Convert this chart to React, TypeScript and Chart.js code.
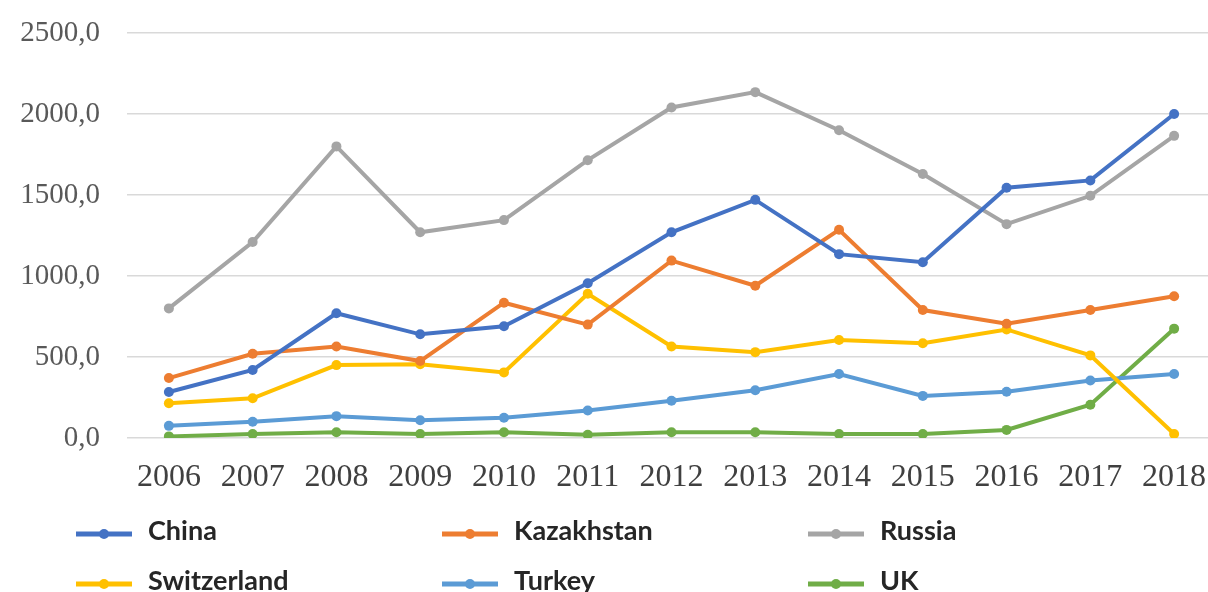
import React, { useEffect, useRef } from "react";
import { Chart, registerables } from "chart.js";

Chart.register(...registerables);

const years = ["2006", "2007", "2008", "2009", "2010", "2011", "2012", "2013", "2014", "2015", "2016", "2017", "2018"];
const china = [284, 420, 770, 640, 690, 955, 1270, 1470, 1135, 1085, 1545, 1590, 2000];
const kazakhstan = [370, 520, 565, 475, 835, 700, 1095, 940, 1285, 790, 705, 790, 875];
const russia = [800, 1210, 1800, 1270, 1345, 1715, 2040, 2135, 1900, 1630, 1320, 1495, 1865];
const switzerland = [215, 245, 450, 455, 405, 890, 565, 530, 605, 585, 670, 510, 25];
const turkey = [75, 100, 135, 110, 125, 170, 230, 295, 395, 260, 285, 355, 395];
const uk = [10, 25, 35, 25, 35, 20, 35, 35, 25, 25, 50, 205, 675];
const yTicks = [0, 500, 1000, 1500, 2000, 2500];

const seriesNames = ["China", "Kazakhstan", "Russia", "Switzerland", "Turkey", "UK"];
const seriesValues = [china, kazakhstan, russia, switzerland, turkey, uk];
const seriesColors = ["#4472C4", "#ED7D31", "#A5A5A5", "#FFC000", "#5B9BD5", "#70AD47"];

const gridLegend = {
  id: "gridLegend",
  afterDraw(chart: any) {
    const ctx = chart.ctx;
    const ds = chart.data.datasets;
    ctx.save();
    ds.forEach((d: any, i: number) => {
      const col = i % 3;
      const row = Math.floor(i / 3);
      const x0 = 76 + col * 366;
      const y = 534 + row * 50;
      ctx.strokeStyle = d.borderColor;
      ctx.lineWidth = 5;
      ctx.lineCap = "butt";
      ctx.beginPath();
      ctx.moveTo(x0, y);
      ctx.lineTo(x0 + 56, y);
      ctx.stroke();
      ctx.fillStyle = d.borderColor;
      ctx.beginPath();
      ctx.arc(x0 + 28, y, 5, 0, Math.PI * 2);
      ctx.fill();
      ctx.fillStyle = "#262626";
      ctx.font = "bold 27px Lato";
      ctx.textBaseline = "middle";
      ctx.textAlign = "left";
      ctx.fillText(d.label, x0 + 72, y - 3);
    });
    ctx.restore();
  },
};

export default function App() {
  const ref = useRef<HTMLCanvasElement>(null);
  useEffect(() => {
    if (!ref.current) return;
    const chart = new Chart(ref.current, {
      type: "line",
      data: {
        labels: years,
        datasets: seriesNames.map((n, i) => ({
          label: n,
          data: seriesValues[i],
          borderColor: seriesColors[i],
          backgroundColor: seriesColors[i],
          borderWidth: 4,
          pointRadius: 5,
          pointBorderWidth: 0,
          pointBackgroundColor: seriesColors[i],
          tension: 0,
        })),
      },
      options: {
        responsive: false,
        animation: false,
        layout: { padding: { top: 33, right: 1, left: 0, bottom: 0 } },
        plugins: { legend: { display: false }, tooltip: { enabled: false } },
        scales: {
          x: {
            offset: true,
            grid: { display: false, drawTicks: false },
            border: { display: false },
            ticks: {
              padding: 20,
              color: "#404040",
              font: { family: "Liberation Serif", size: 32 },
              maxRotation: 0,
              autoSkip: false,
            },
            afterFit(scale: any) {
              scale.height = 154;
              scale.paddingLeft = 0;
              scale.paddingRight = 0;
            },
          },
          y: {
            min: 0,
            max: 2500,
            afterBuildTicks(scale: any) {
              scale.ticks = yTicks.map((v) => ({ value: v }));
            },
            grid: { color: "#d9d9d9", lineWidth: 1.5, drawTicks: false },
            border: { display: false },
            ticks: {
              padding: 27,
              color: "#595959",
              font: { family: "Liberation Serif", size: 29 },
              callback: (v: any) => Number(v).toFixed(1).replace(".", ","),
            },
            afterFit(scale: any) {
              scale.width = 127;
              scale.paddingTop = 0;
              scale.paddingBottom = 0;
            },
          },
        },
      },
      plugins: [gridLegend],
    });
    return () => chart.destroy();
  }, []);
  return (
    <div style={{ position: "absolute", left: 0, top: 0, width: 1208, height: 592, overflow: "hidden", background: "#fff" }}>
      <canvas ref={ref} width={1221} height={592} style={{ display: "block" }} />
    </div>
  );
}
